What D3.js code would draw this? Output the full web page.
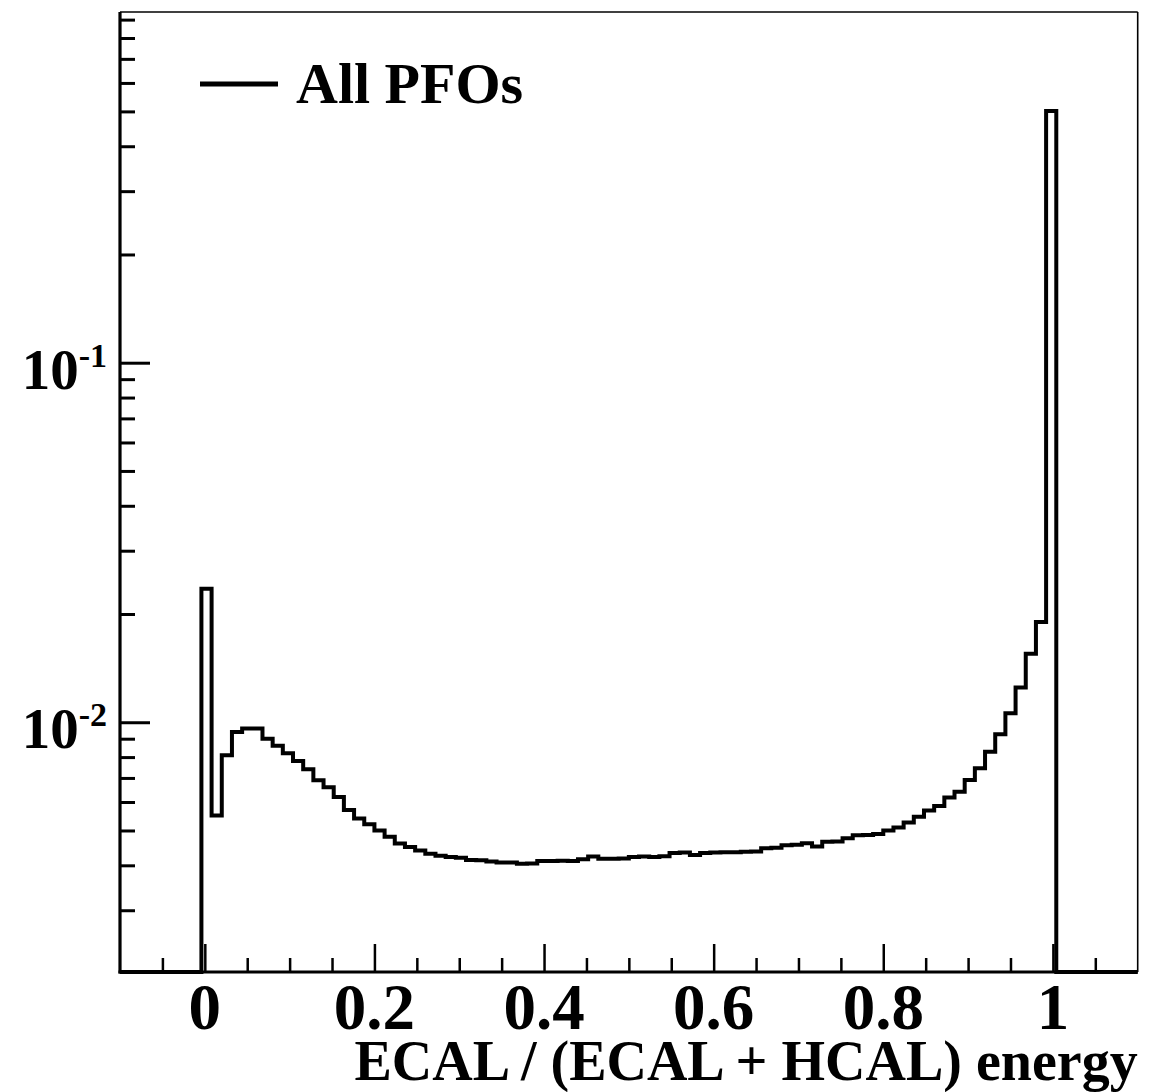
<!DOCTYPE html>
<html>
<head>
<meta charset="utf-8">
<script src="https://cdn.jsdelivr.net/npm/d3@7"></script>
<style>
  body { margin: 0; background: #fff; }
  text { font-family: "Liberation Serif", "Times New Roman", serif; font-weight: bold; fill: #000; }
</style>
</head>
<body>
<div id="chart"></div>
<script>
//histogram binning, 100 bins from -0.1 to 1.1
const xMin = -0.1
const xMax = 1.1
const binWidth = 0.012

//bin contents (normalised), empty bins are 0
const binValues = [
  0, 0, 0, 0, 0, 0, 0, 0,
  0.0235, 0.0055, 0.0081, 0.0094, 0.0096, 0.0096, 0.0090, 0.0086, 0.0082, 0.0078,
  0.0074, 0.0069, 0.0066, 0.0062, 0.0057, 0.0054, 0.0052, 0.0050, 0.0048, 0.0046,
  0.0045, 0.0044, 0.00431, 0.00425, 0.00422, 0.00420, 0.00414, 0.00413, 0.00410, 0.00407,
  0.00407, 0.00404, 0.00405, 0.00411, 0.00411, 0.00412, 0.00411, 0.00416, 0.00423, 0.00417,
  0.00417, 0.00418, 0.00422, 0.00423, 0.00422, 0.00424, 0.00433, 0.00434, 0.00427, 0.00433,
  0.00434, 0.00435, 0.00435, 0.00436, 0.00437, 0.00446, 0.00448, 0.00455, 0.00456, 0.00461,
  0.00451, 0.00465, 0.00466, 0.00476, 0.00485, 0.00486, 0.00489, 0.00500, 0.00510, 0.00526,
  0.00546, 0.00568, 0.00585, 0.00618, 0.00641, 0.00691, 0.00745, 0.00828, 0.00926, 0.0106,
  0.0125, 0.0155, 0.0190, 0.501,
  0, 0, 0, 0, 0, 0, 0, 0
]

//axis ticks
const xMajorTicks = [0, 0.2, 0.4, 0.6, 0.8, 1]
const xTickLabels = ["0", "0.2", "0.4", "0.6", "0.8", "1"]
const xMinorTicks = [-0.05, 0.05, 0.1, 0.15, 0.25, 0.3, 0.35, 0.45, 0.5, 0.55, 0.65, 0.7, 0.75, 0.85, 0.9, 0.95, 1.05]
const yMajorTicks = [0.01, 0.1]
const yTickExponents = ["-2", "-1"]
const yDomain = [0.00202, 0.945]

const xTitle = "ECAL / (ECAL + HCAL) energy"
const legendLabel = "All PFOs"

//frame dims
const dims = { left: 120, right: 1137.7, top: 12, bottom: 972 }

const svg = d3.select("#chart")
  .append("svg")
    .attr("width", 1159)
    .attr("height", 1092)

const x = d3.scaleLinear().domain([xMin, xMax]).range([dims.left, dims.right])
const y = d3.scaleLog().domain(yDomain).range([dims.bottom, dims.top]).clamp(true)

//minor log ticks, 2..9 per decade inside the domain
const yMinorTicks = y.ticks().filter(t => yMajorTicks.indexOf(+t.toPrecision(3)) < 0)

//frame: thin top/right, thick axes
svg.append("line")
  .attr("x1", dims.left).attr("x2", dims.right)
  .attr("y1", dims.top).attr("y2", dims.top)
  .attr("stroke", "#000").attr("stroke-width", 1.6)
svg.append("line")
  .attr("x1", dims.right).attr("x2", dims.right)
  .attr("y1", dims.top).attr("y2", dims.bottom)
  .attr("stroke", "#000").attr("stroke-width", 1.6)

//y axis ticks pointing inwards
const yAxis = d3.axisRight(y).tickValues(yMajorTicks).tickSize(30).tickFormat("")
const yAxisMinor = d3.axisRight(y).tickValues(yMinorTicks).tickSize(15).tickFormat("")

svg.append("g").attr("transform", "translate(" + dims.left + ",0)").call(yAxisMinor)
svg.append("g").attr("transform", "translate(" + dims.left + ",0)").call(yAxis)

//x axis ticks pointing inwards
const xAxis = d3.axisTop(x).tickValues(xMajorTicks).tickSize(28).tickFormat("")
const xAxisMinor = d3.axisTop(x).tickValues(xMinorTicks).tickSize(14).tickFormat("")

svg.append("g").attr("class", "xminor").attr("transform", "translate(0," + dims.bottom + ")").call(xAxisMinor)
svg.append("g").attr("class", "xmajor").attr("transform", "translate(0," + dims.bottom + ")").call(xAxis)

svg.selectAll(".domain").remove()
svg.selectAll(".tick line").attr("stroke", "#000").attr("stroke-width", 3)
svg.selectAll(".xminor .tick line, .xmajor .tick line").attr("stroke-width", 2.5)

//axis lines
svg.append("line")
  .attr("x1", dims.left).attr("x2", dims.left)
  .attr("y1", dims.top).attr("y2", dims.bottom + 1.5)
  .attr("stroke", "#000").attr("stroke-width", 3.2)
svg.append("line")
  .attr("x1", dims.left - 1.5).attr("x2", dims.right)
  .attr("y1", dims.bottom).attr("y2", dims.bottom)
  .attr("stroke", "#000").attr("stroke-width", 3.2)

//x tick labels
svg.selectAll(".xlabel")
  .data(xMajorTicks)
  .enter().append("text")
    .attr("class", "xlabel")
    .attr("x", d => x(d))
    .attr("y", 1029)
    .attr("text-anchor", "middle")
    .style("font-size", "65px")
    .text((d, i) => xTickLabels[i])

//y tick labels, 10^n
const yLab = svg.selectAll(".ylabel")
  .data(yMajorTicks)
  .enter().append("text")
    .attr("class", "ylabel")
    .attr("x", 107)
    .attr("y", d => y(d) + 26)
    .attr("text-anchor", "end")

yLab.append("tspan").style("font-size", "57px").text("10")
yLab.append("tspan")
  .style("font-size", "34px")
  .attr("dy", -22)
  .text((d, i) => yTickExponents[i])

//x axis title
svg.append("text")
  .attr("x", dims.right)
  .attr("y", 1080)
  .attr("text-anchor", "end")
  .style("font-size", "56px")
  .text(xTitle)

//histogram outline as steps
const points = binValues.map((v, i) => [xMin + i * binWidth, v > 0 ? v : yDomain[0]])
points.push([xMax, points[points.length - 1][1]])

const histLine = d3.line()
  .x(d => x(d[0]))
  .y(d => y(d[1]))
  .curve(d3.curveStepAfter)

svg.append("path")
  .datum(points)
  .attr("d", histLine)
  .attr("fill", "none")
  .attr("stroke", "#000")
  .attr("stroke-width", 4)
  .attr("stroke-linejoin", "miter")

//legend
svg.append("line")
  .attr("x1", 200).attr("x2", 278)
  .attr("y1", 84).attr("y2", 84)
  .attr("stroke", "#000").attr("stroke-width", 5)

svg.append("text")
  .attr("x", 296)
  .attr("y", 103)
  .style("font-size", "58px")
  .text(legendLabel)
</script>
</body>
</html>
